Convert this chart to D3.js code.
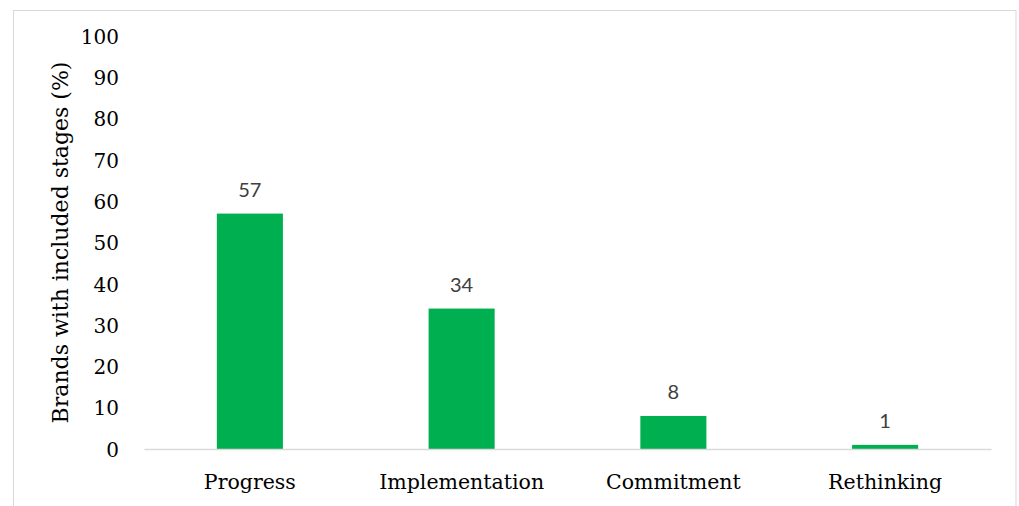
<!DOCTYPE html>
<html>
<head>
<meta charset="utf-8">
<script src="https://cdn.jsdelivr.net/npm/d3@7"></script>
<style>
  html, body { margin: 0; padding: 0; background: #fff; }
  svg { display: block; }
</style>
</head>
<body>
<svg id="chart" width="1019" height="506"></svg>
<script>
// Share of brands whose reporting includes each stage
const stages = ["Progress", "Implementation", "Commitment", "Rethinking"];
const brandShares = [57, 34, 8, 1];
const yTickValues = [0, 10, 20, 30, 40, 50, 60, 70, 80, 90, 100];
const yAxisTitle = "Brands with included stages (%)";

const svg = d3.select("#chart");
const W = 1019, H = 506;
const plot = { left: 144, right: 991, top: 36, bottom: 449 };

const serif = "'DejaVu Serif', 'Liberation Serif', serif";
const sans = "Lato, 'Open Sans', sans-serif";

// chart frame
svg.append("rect")
  .attr("x", 13.5).attr("y", 10.5)
  .attr("width", 1016 - 13.5).attr("height", H + 10)
  .attr("fill", "#fff")
  .attr("stroke", "#d9d9d9")
  .attr("stroke-width", 1);

const x = d3.scaleBand()
  .domain(stages)
  .range([plot.left, plot.right])
  .paddingInner(0.688)
  .paddingOuter(0.344);

const y = d3.scaleLinear()
  .domain([0, 100])
  .range([plot.bottom, plot.top]);

// y axis: labels only
const yAxis = svg.append("g")
  .attr("transform", `translate(${plot.left - 25},0)`)
  .call(d3.axisLeft(y).tickValues(yTickValues).tickSize(0).tickPadding(0));
yAxis.select(".domain").remove();
yAxis.selectAll("text")
  .attr("font-family", serif)
  .attr("font-size", 20)
  .attr("fill", "#000")
  .attr("dy", "0.36em");

// bars
svg.append("g")
  .selectAll("rect")
  .data(brandShares)
  .join("rect")
  .attr("x", (d, i) => x(stages[i]))
  .attr("y", d => y(d))
  .attr("width", x.bandwidth())
  .attr("height", d => y(0) - y(d))
  .attr("fill", "#00b050");

// baseline
const xAxis = svg.append("g")
  .attr("transform", `translate(0,${plot.bottom})`)
  .call(d3.axisBottom(x).tickSize(0).tickPadding(0));
xAxis.select(".domain")
  .attr("stroke", "#d9d9d9")
  .attr("stroke-width", 1.5);
xAxis.selectAll("text")
  .attr("font-family", serif)
  .attr("font-size", 20.5)
  .attr("fill", "#000")
  .attr("dy", 0)
  .attr("y", 40);

// value labels
svg.append("g")
  .selectAll("text")
  .data(brandShares)
  .join("text")
  .attr("x", (d, i) => x(stages[i]) + x.bandwidth() / 2)
  .attr("y", d => y(d) - 17)
  .attr("text-anchor", "middle")
  .attr("font-family", sans)
  .attr("font-size", 20)
  .attr("fill", "#404040")
  .text(d => d);

// y axis title
svg.append("text")
  .attr("transform", `translate(62,${(plot.top + plot.bottom) / 2}) rotate(-90)`)
  .attr("text-anchor", "middle")
  .attr("dominant-baseline", "middle")
  .attr("font-family", serif)
  .attr("font-size", 22)
  .attr("fill", "#000")
  .text(yAxisTitle);
</script>
</body>
</html>
